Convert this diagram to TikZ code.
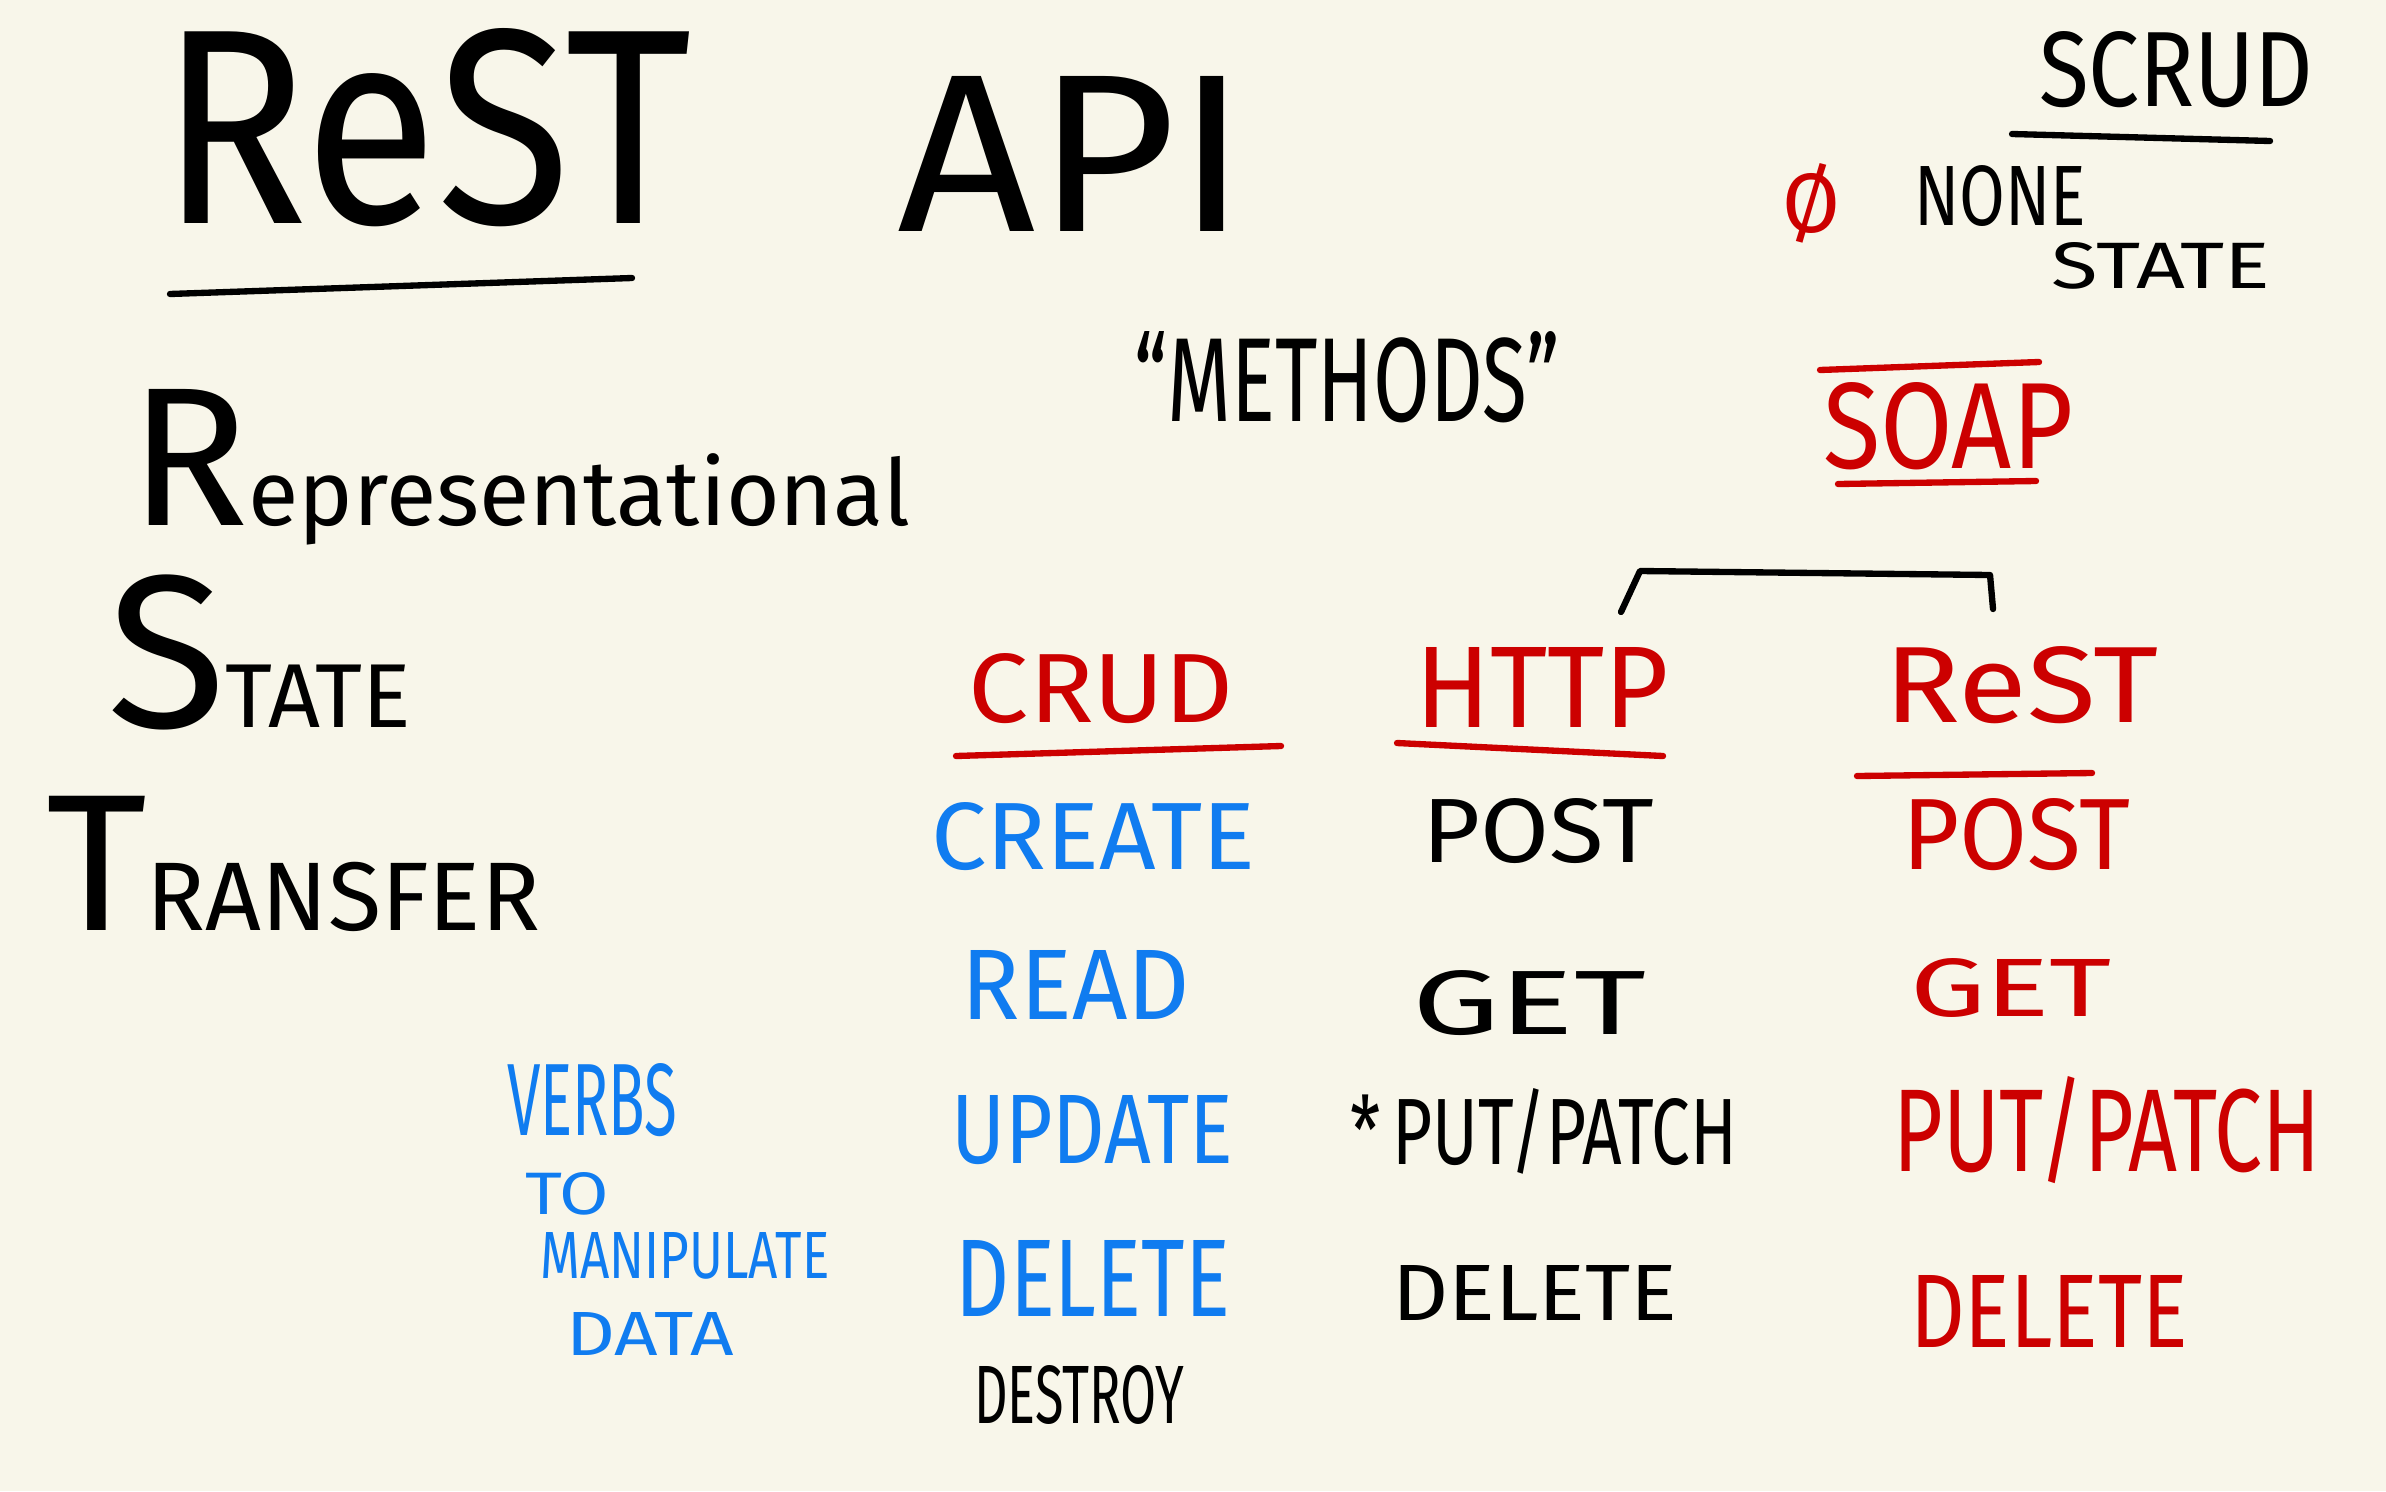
\documentclass[tikz,border=0pt]{standalone}
\usepackage{fontspec}
\usepackage{graphicx}
\setmainfont{Fira Sans}
\newdimen\pxu \pxu=0.01cm
\newcommand\hw[3]{\resizebox{#1\pxu}{#2\pxu}{#3}}
\newcommand\fw[2]{\resizebox{#1\pxu}{!}{#2}}
\definecolor{board}{RGB}{248,246,234}
\definecolor{ink}{RGB}{0,0,0}
\definecolor{inkred}{RGB}{204,0,0}
\definecolor{inkblue}{RGB}{16,124,240}
\tikzset{
  txt/.style={inner sep=0pt, outer sep=0pt, text=ink},
  redtxt/.style={txt, text=inkred},
  bluetxt/.style={txt, text=inkblue},
  pen/.style={line width=1.8pt, line cap=round, line join=round, draw=ink},
  redpen/.style={pen, draw=inkred}
}
\begin{document}
\begin{tikzpicture}[x=0.01cm,y=-0.01cm]
\fill[board] (0,0) rectangle (2386,1491);
\useasboundingbox (0,0) rectangle (2386,1491);

% left titles
\node[txt] (title) at (426,128) {\hw{532}{195}{ReST}};
\coordinate (tul1) at (170,294);
\coordinate (tul2) at (632,278);
\draw[pen] (tul1) -- (tul2);
\node[txt] (api) at (1073,154) {\hw{350}{155}{API}};

\node[txt, anchor=base west] (repr) at (129,525) {\fw{781}{\fontsize{60}{60}\selectfont R\fontsize{28}{28}\selectfont epresentational}};
\node[txt, anchor=base west] (state) at (107,727) {\fw{304}{\fontsize{48}{48}\selectfont S\fontsize{20}{20}\selectfont TATE}};
\node[txt, anchor=base west] (transfer) at (46,930) {\fw{494}{\fontsize{44}{44}\selectfont T\fontsize{22}{22}\selectfont RANSFER}};

\node[txt] (methods) at (1347,377) {\hw{426}{90}{``METHODS''}};

% top right
\node[txt] (scrud) at (2176,70) {\hw{274}{75}{SCRUD}};
\coordinate (sul1) at (2012,134);
\coordinate (sul2) at (2270,141);
\draw[pen] (sul1) -- (sul2);
\node[redtxt] (null) at (1811,203) {\hw{58}{69}{Ø}};
\node[txt] (none) at (2000,196) {\hw{172}{60}{NONE}};
\node[txt] (nstate) at (2161,266) {\hw{219}{46}{STATE}};

\node[redtxt] (soap) at (1948,426) {\hw{250}{86}{SOAP}};
\coordinate (sol1) at (1820,370);
\coordinate (sol2) at (2039,362);
\coordinate (sou1) at (1838,484);
\coordinate (sou2) at (2036,481);
\draw[redpen] (sol1) -- (sol2);
\draw[redpen] (sou1) -- (sou2);

% column heads
\node[redtxt] (crud) at (1101,689) {\hw{264}{69}{CRUD}};
\node[redtxt] (http) at (1542,687) {\hw{254}{80}{HTTP}};
\node[redtxt] (rest) at (2021,685) {\hw{274}{76}{ReST}};
\coordinate (cu1) at (956,756);
\coordinate (cu2) at (1281,746);
\coordinate (hu1) at (1397,743);
\coordinate (hu2) at (1663,756);
\coordinate (ru1) at (1857,776);
\coordinate (ru2) at (2092,773);
\draw[redpen] (cu1) -- (cu2);
\draw[redpen] (hu1) -- (hu2);
\draw[redpen] (ru1) -- (ru2);

% bracket joining HTTP and REST
\coordinate (b1) at (1621,612);
\coordinate (b2) at (1640,571);
\coordinate (b3) at (1990,575);
\coordinate (b4) at (1993,609);
\draw[pen] (b1) -- (b2) -- (b3) -- (b4);

% CRUD column
\node[bluetxt] (create) at (1093,837) {\hw{324}{67}{CREATE}};
\node[bluetxt] (read) at (1076,985) {\hw{228}{69}{READ}};
\node[bluetxt] (update) at (1092,1130) {\hw{282}{68}{UPDATE}};
\node[bluetxt] (delete) at (1093,1278) {\hw{274}{76}{DELETE}};
\node[txt] (destroy) at (1079,1395) {\hw{210}{58}{DESTROY}};

% HTTP column
\node[txt] (hpost) at (1538,831) {\hw{231}{64}{POST}};
\node[txt] (hget) at (1529,1003) {\hw{234}{64}{GET}};
\node[txt] (hput) at (1544,1131) {\hw{387}{76}{*\,PUT/PATCH}};
\node[txt] (hdel) at (1535,1293) {\hw{285}{55}{DELETE}};

% REST column
\node[redtxt] (rpost) at (2016,835) {\hw{228}{71}{POST}};
\node[redtxt] (rget) at (2011,988) {\hw{202}{58}{GET}};
\node[redtxt] (rput) at (2107,1130) {\hw{427}{95}{PUT/PATCH}};
\node[redtxt] (rdel) at (2049,1311) {\hw{278}{72}{DELETE}};

% note
\node[bluetxt] (verbs) at (592,1100) {\hw{170}{72}{VERBS}};
\node[bluetxt] (to) at (567,1194) {\hw{84}{42}{TO}};
\node[bluetxt] (manip) at (685,1256) {\hw{289}{46}{MANIPULATE}};
\node[bluetxt] (data) at (650,1334) {\hw{167}{43}{DATA}};
\end{tikzpicture}
\end{document}
